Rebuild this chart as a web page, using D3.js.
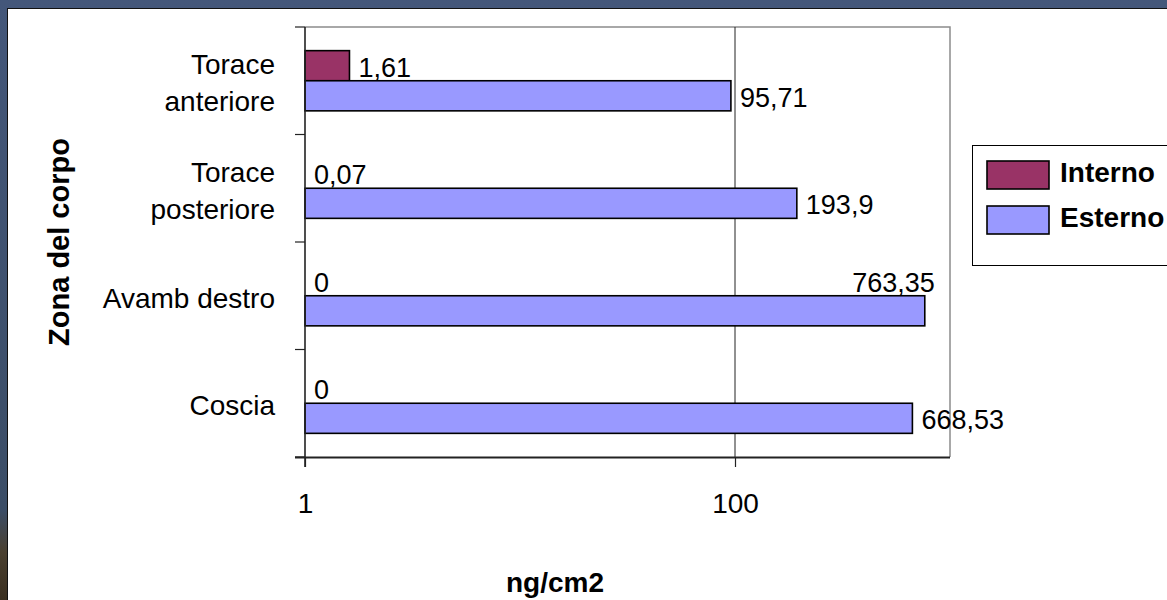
<!DOCTYPE html>
<html>
<head>
<meta charset="utf-8">
<script src="https://cdn.jsdelivr.net/npm/d3@7"></script>
<style>
  body { margin: 0; background: #fff; }
  text { font-family: "Liberation Sans", Arial, sans-serif; fill: #000; }
</style>
</head>
<body>
<div id="chart"></div>
<script>
// categories top to bottom, "\n" = line break in the label
const categories = ["Torace\nanteriore", "Torace\nposteriore", "Avamb destro", "Coscia"];
const seriesNames = ["Interno", "Esterno"];
const interno = [1.61, 0.07, 0, 0];
const esterno = [95.71, 193.9, 763.35, 668.53];
const xTicks = [1, 100];
const colors = { Interno: "#993366", Esterno: "#9999ff" };

const W = 1167, H = 600;
const plot = { left: 305, right: 950, top: 27, bottom: 457 };

const svg = d3.select("#chart").append("svg")
  .attr("width", W).attr("height", H);

// slide frame: dark border round a white panel
const defs = svg.append("defs");
const grad = defs.append("linearGradient").attr("id", "edge")
  .attr("x1", 0).attr("y1", 0).attr("x2", 0).attr("y2", 1);
grad.append("stop").attr("offset", "0").attr("stop-color", "#44577a");
grad.append("stop").attr("offset", "0.85").attr("stop-color", "#3b4d66");
grad.append("stop").attr("offset", "0.92").attr("stop-color", "#4a4030");
grad.append("stop").attr("offset", "1").attr("stop-color", "#3a2f20");
svg.append("rect").attr("width", W).attr("height", H).attr("fill", "url(#edge)");
svg.append("rect").attr("x", 7.5).attr("y", 8.5).attr("width", W).attr("height", H)
  .attr("fill", "#fff").attr("stroke", "#111").attr("stroke-width", 1);

const x = d3.scaleLog().domain([1, 1000]).range([plot.left, plot.right]);
const y = d3.scaleBand().domain(categories).range([plot.top, plot.bottom]);
const ys = d3.scaleBand().domain(seriesNames)
  .range([y.bandwidth() * 0.22, y.bandwidth() * 0.78]);

// plot frame (top/right grey) and gridline at 100
const g = svg.append("g");
g.append("path")
  .attr("d", `M${plot.left},${plot.top}H${plot.right}V${plot.bottom}`)
  .attr("fill", "none").attr("stroke", "#8c8c8c").attr("stroke-width", 1.5);
g.selectAll(".grid").data(xTicks.filter((t) => t > 1)).join("line")
  .attr("x1", (d) => x(d)).attr("x2", (d) => x(d))
  .attr("y1", plot.top).attr("y2", plot.bottom)
  .attr("stroke", "#222").attr("stroke-width", 1);

// rows of data
const rows = categories.map((c, i) => ({
  cat: c,
  vals: [
    { key: "Interno", value: interno[i] },
    { key: "Esterno", value: esterno[i] },
  ],
}));

const rowG = g.selectAll(".row").data(rows).join("g")
  .attr("transform", (d) => `translate(0,${y(d.cat)})`);

// log axis starts at 1, so values below 1 give no bar
rowG.selectAll("rect").data((d) => d.vals.filter((v) => v.value > 1)).join("rect")
  .attr("x", x(1))
  .attr("y", (d) => ys(d.key))
  .attr("width", (d) => x(d.value) - x(1))
  .attr("height", ys.bandwidth())
  .attr("fill", (d) => colors[d.key])
  .attr("stroke", "#000").attr("stroke-width", 1.6);

// data labels, decimal comma; the largest one is tucked back above its bar
const maxE = d3.max(esterno);
rowG.selectAll(".lbl").data((d) => d.vals).join("text")
  .attr("class", "lbl")
  .attr("font-size", 27)
  .each(function (d) {
    const end = x(Math.max(d.value, 1));
    const tucked = d.key === "Esterno" && d.value === maxE;
    d3.select(this)
      .attr("x", tucked ? end + 10 : end + 9)
      .attr("text-anchor", tucked ? "end" : "start")
      .attr("y", (tucked ? ys("Interno") : ys(d.key)) + ys.bandwidth() / 2 + 11);
  })
  .text((d) => String(d.value).replace(".", ","));

// y axis line + ticks at band boundaries
const bounds = categories.map((c) => y(c)).concat([plot.bottom]);
g.selectAll(".ytick").data(bounds).join("line")
  .attr("x1", plot.left - 10).attr("x2", plot.left)
  .attr("y1", (d) => d).attr("y2", (d) => d)
  .attr("stroke", "#222").attr("stroke-width", 1.2);
g.append("line")
  .attr("x1", plot.left).attr("x2", plot.left)
  .attr("y1", plot.top).attr("y2", plot.bottom + 10)
  .attr("stroke", "#222").attr("stroke-width", 1.6);

// category labels
const lineGap = 37;
g.selectAll(".cat").data(categories).join("text")
  .attr("text-anchor", "end")
  .attr("font-size", 28)
  .each(function (c) {
    const lines = c.split("\n");
    const cy = y(c) + y.bandwidth() / 2 + 12 - ((lines.length - 1) * lineGap) / 2;
    d3.select(this).selectAll("tspan").data(lines).join("tspan")
      .attr("x", plot.left - 30)
      .attr("y", (d, i) => cy + i * lineGap)
      .text((d) => d);
  });

// x axis
const xAxis = d3.axisBottom(x).tickValues(xTicks).tickSize(10).tickPadding(26)
  .tickFormat(d3.format("d"));
const ax = g.append("g").attr("transform", `translate(0,${plot.bottom})`).call(xAxis);
ax.select(".domain").attr("d", `M${plot.left - 10},0.5H${plot.right}`)
  .attr("stroke", "#222").attr("stroke-width", 2);
ax.selectAll(".tick line").attr("stroke", "#222").attr("stroke-width", 1.2);
ax.selectAll(".tick text").attr("font-size", 28).attr("fill", "#000")
  .attr("font-family", '"Liberation Sans", Arial, sans-serif');

// axis titles
g.append("text")
  .attr("transform", "translate(555,592)")
  .attr("text-anchor", "middle").attr("font-size", 28).attr("font-weight", "bold")
  .text("ng/cm2");
g.append("text")
  .attr("transform", `translate(69,${(plot.top + plot.bottom) / 2}) rotate(-90)`)
  .attr("text-anchor", "middle").attr("font-size", 29).attr("font-weight", "bold")
  .text("Zona del corpo");

// legend
const leg = svg.append("g").attr("transform", "translate(972,145)");
leg.append("rect").attr("x", 0.5).attr("y", 0.5).attr("width", 240).attr("height", 120)
  .attr("fill", "#fff").attr("stroke", "#000").attr("stroke-width", 1);
const items = leg.selectAll(".item").data(seriesNames).join("g")
  .attr("transform", (d, i) => `translate(15,${16 + i * 45})`);
items.append("rect").attr("width", 62).attr("height", 28)
  .attr("fill", (d) => colors[d]).attr("stroke", "#000").attr("stroke-width", 1.6);
items.append("text").attr("x", 73).attr("y", 21)
  .attr("font-size", 28).attr("font-weight", "bold").text((d) => d);
</script>
</body>
</html>
